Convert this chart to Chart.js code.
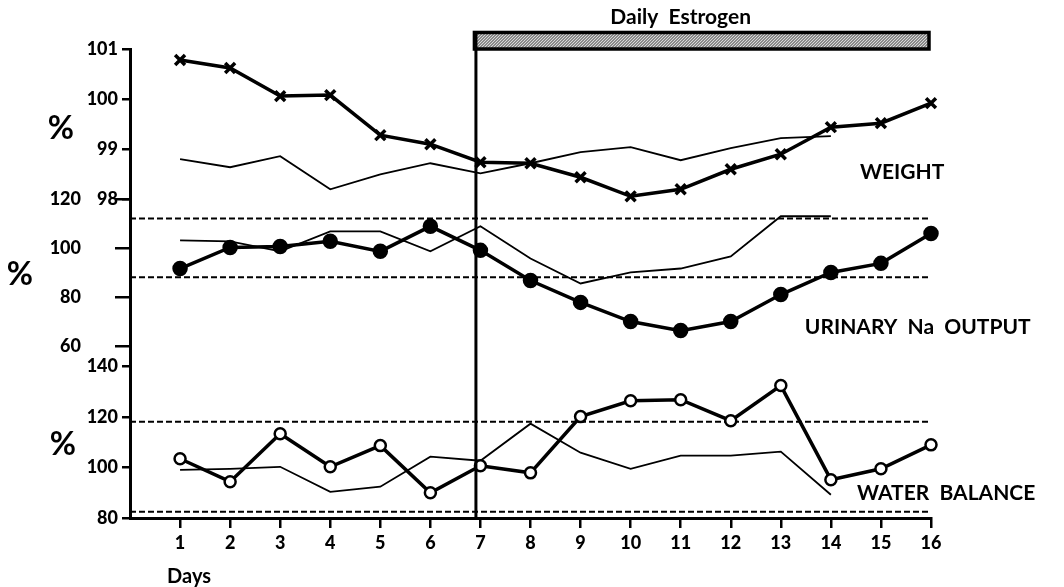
<!DOCTYPE html>
<html>
<head>
<meta charset="utf-8">
<script src="https://cdn.jsdelivr.net/npm/chart.js@4"></script>
<style>
  body { margin: 0; background: #fff; }
  canvas { display: block; }
</style>
</head>
<body>
<canvas id="estrogenChart" width="1064" height="587"></canvas>
<script>
// values, one per day
const days = [1, 2, 3, 4, 5, 6, 7, 8, 9, 10, 11, 12, 13, 14, 15, 16];
const weightEstrogen = [100.78, 100.62, 100.06, 100.08, 99.28, 99.10, 98.74, 98.72, 98.44, 98.06, 98.20, 98.60, 98.90, 99.44, 99.52, 99.92];
const weightControl = [98.80, 98.64, 98.86, 98.20, 98.50, 98.72, 98.52, 98.72, 98.94, 99.04, 98.78, 99.02, 99.22, 99.26];
const sodiumEstrogen = [91.8, 100.4, 100.8, 102.9, 98.8, 109.0, 99.2, 86.9, 78.0, 70.2, 66.5, 70.2, 81.2, 90.2, 93.9, 106.1];
const sodiumControl = [103.3, 102.9, 98.8, 106.9, 106.9, 98.8, 109.0, 95.9, 85.7, 90.2, 91.8, 96.7, 113.1, 113.1];
const waterEstrogen = [103.5, 94.4, 113.4, 100.3, 108.7, 90.0, 100.7, 97.9, 120.2, 126.5, 126.9, 118.6, 132.5, 95.2, 99.5, 109.0];
const waterControl = [99.1, 99.5, 100.3, 90.4, 92.4, 104.3, 102.7, 117.4, 105.9, 99.5, 104.7, 104.7, 106.3, 89.2];

const weightTicks = [98, 99, 100, 101];
const sodiumTicks = [60, 80, 100, 120];
const waterTicks = [80, 100, 120, 140];
const sodiumLimits = [112.2, 88.2];
const waterLimits = [118.2, 82.5];
const estrogenDays = [6.88, 15.96];

const FONT = "Lato, 'DejaVu Sans', sans-serif";

function pairs(vals) {
    return vals.map((v, i) => ({ x: days[i], y: v }));
}
function flatLine(v) {
    return [{ x: 0, y: v }, { x: 16, y: v }];
}
function fixTicks(list) {
    return function (scale) {
        scale.ticks = list.map(v => ({ value: v }));
    };
}

const bold = { borderColor: "#000", borderWidth: 3.5, tension: 0, pointBorderColor: "#000", clip: false };
const thin = { borderColor: "#000", borderWidth: 1.8, tension: 0, pointRadius: 0 };
const dashed = { borderColor: "#000", borderWidth: 2, borderDash: [6, 3], pointRadius: 0 };

const datasets = [
    Object.assign({ data: pairs(weightEstrogen), yAxisID: "yWeight", pointStyle: "crossRot", pointRadius: 7, pointBorderWidth: 3.5 }, bold),
    Object.assign({ data: pairs(sodiumEstrogen), yAxisID: "ySodium", pointRadius: 6, pointBackgroundColor: "#000" }, bold),
    Object.assign({ data: pairs(waterEstrogen), yAxisID: "yWater", pointRadius: 5.5, pointBorderWidth: 2.5, pointBackgroundColor: "#fff" }, bold),
    Object.assign({ data: pairs(weightControl), yAxisID: "yWeight" }, thin),
    Object.assign({ data: pairs(sodiumControl), yAxisID: "ySodium" }, thin),
    Object.assign({ data: pairs(waterControl), yAxisID: "yWater" }, thin)
];
sodiumLimits.forEach(v => datasets.push(Object.assign({ data: flatLine(v), yAxisID: "ySodium" }, dashed)));
waterLimits.forEach(v => datasets.push(Object.assign({ data: flatLine(v), yAxisID: "yWater" }, dashed)));

function yAxis(min, max, weight, ticks, tickLen, pad) {
    return {
        type: "linear",
        position: "left",
        stack: "panels",
        stackWeight: weight,
        min: min,
        max: max,
        afterBuildTicks: fixTicks(ticks),
        afterFit: function (scale) { scale.width = 130; },
        grid: { drawOnChartArea: false, drawTicks: true, tickLength: tickLen, color: "#000", lineWidth: 2.5 },
        border: { display: true, color: "#000", width: 3 },
        ticks: { color: "#000", padding: pad, font: { family: FONT, size: 18, weight: "900" } }
    };
}

// stippled fill like the printed bar
function stipple(ctx) {
    const c = document.createElement("canvas");
    c.width = 3; c.height = 3;
    const p = c.getContext("2d");
    p.fillStyle = "#8a8a8a";
    p.fillRect(0, 0, 3, 3);
    p.fillStyle = "#d8d8d8";
    p.fillRect(0, 0, 1, 1);
    p.fillRect(2, 1, 1, 1);
    p.fillRect(1, 2, 1, 1);
    return ctx.createPattern(c, "repeat");
}

// labels, estrogen bar and the day-7 marker
const decorations = {
    id: "decorations",
    afterDraw(chart) {
        const ctx = chart.ctx;
        const x = chart.scales.x;
        const yW = chart.scales.yWeight;
        const yN = chart.scales.ySodium;
        const yB = chart.scales.yWater;
        ctx.save();

        // estrogen bar
        const bx0 = x.getPixelForValue(estrogenDays[0]);
        const bx1 = x.getPixelForValue(estrogenDays[1]);
        const by0 = yW.getPixelForValue(101.33);
        const by1 = yW.getPixelForValue(101.0);
        ctx.fillStyle = stipple(ctx);
        ctx.fillRect(bx0, by0, bx1 - bx0, by1 - by0);
        ctx.strokeStyle = "#000";
        ctx.lineWidth = 3.5;
        ctx.strokeRect(bx0, by0, bx1 - bx0, by1 - by0);

        // vertical marker at start of treatment
        ctx.lineWidth = 3;
        ctx.beginPath();
        ctx.moveTo(bx0 + 1.5, by0);
        ctx.lineTo(bx0 + 1.5, chart.chartArea.bottom);
        ctx.stroke();

        ctx.fillStyle = "#000";
        ctx.textBaseline = "middle";
        ctx.textAlign = "center";
        ctx.font = "bold 21px " + FONT;
        ctx.fillText("Daily  Estrogen", x.getPixelForValue(11.0), yW.getPixelForValue(101.64));

        ctx.textAlign = "left";
        ctx.font = "bold 21px " + FONT;
        ctx.fillText("WEIGHT", x.getPixelForValue(14.58), yW.getPixelForValue(98.54));
        ctx.fillText("URINARY  Na  OUTPUT", x.getPixelForValue(13.48), yN.getPixelForValue(67.8));
        ctx.fillText("WATER  BALANCE", x.getPixelForValue(14.52), yB.getPixelForValue(90));

        ctx.textAlign = "center";
        ctx.font = "bold 20px " + FONT;
        ctx.fillText("Days", x.getPixelForValue(1.18), yB.getPixelForValue(56.6));

        ctx.font = "bold 32px " + FONT;
        ctx.fillText("%", x.getPixelForValue(-1.38), yW.getPixelForValue(99.4));
        ctx.fillText("%", x.getPixelForValue(-2.2), yN.getPixelForValue(89.4));
        ctx.fillText("%", x.getPixelForValue(-1.34), yB.getPixelForValue(109));
        ctx.restore();
    }
};

new Chart(document.getElementById("estrogenChart"), {
    type: "line",
    data: { datasets: datasets },
    options: {
        responsive: false,
        animation: false,
        devicePixelRatio: 1,
        layout: { padding: { top: 49, right: 133, left: 0, bottom: 0 } },
        plugins: { legend: { display: false }, tooltip: { enabled: false } },
        scales: {
            x: {
                type: "linear",
                min: 0,
                max: 16,
                afterBuildTicks: fixTicks(days),
                afterFit: function (scale) { scale.height = 69; },
                grid: { drawOnChartArea: false, drawTicks: true, tickLength: 10, color: "#000", lineWidth: 2.5 },
                border: { display: true, color: "#000", width: 3 },
                ticks: { color: "#000", padding: 4, maxRotation: 0, font: { family: FONT, size: 18, weight: "900" } }
            },
            // stacked axes are laid out bottom-up in definition order
            yWater: yAxis(80, 140, 151, waterTicks, 8, 4),
            ySodium: yAxis(51.8, 120, 167, sodiumTicks, 15, 34),
            yWeight: yAxis(98, 101, 150, weightTicks, 8, 4)
        }
    },
    plugins: [decorations]
});
</script>
</body>
</html>
